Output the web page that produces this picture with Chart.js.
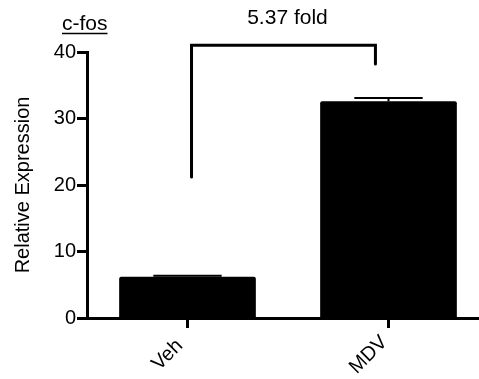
<!DOCTYPE html>
<html>
<head>
<meta charset="utf-8">
<script src="https://cdn.jsdelivr.net/npm/chart.js@4/dist/chart.umd.min.js"></script>
<style>
html,body{margin:0;padding:0;background:#fff;overflow:hidden;width:479px;height:379px;}
#wrap{width:489px;height:379px;}
</style>
</head>
<body>
<div id="wrap"><canvas id="c" width="489" height="379"></canvas></div>
<script>
// ---- data ----
const categories = ["Veh", "MDV"];
const meanValues = [6.2, 32.6];
const errorValues = [0.15, 0.5];
const yTicks = [0, 10, 20, 30, 40];
const chartTitle = "c-fos";
const yAxisTitle = "Relative Expression";
const bracketLabel = "5.37 fold";
// bracket: [category position, value] for left bottom, top-left, top-right, right bottom
const bracketX = [0.02, 0.02, 0.935, 0.935];
const bracketY = [21.2, 41.0, 41.0, 38.2];
const bracketLabelValue = 45.1;

const FONT = "'Liberation Sans', Arial, Helvetica, sans-serif";

const annot = {
  id: 'annot',
  afterDatasetsDraw(chart) {
    const ctx = chart.ctx;
    const xs = chart.scales.x, ys = chart.scales.y;
    const x0 = xs.getPixelForValue(0), x1 = xs.getPixelForValue(1);
    const px = v => x0 + v * (x1 - x0);
    ctx.save();
    ctx.strokeStyle = '#000';
    // error bars
    const barW = chart.getDatasetMeta(0).data[0].width;
    meanValues.forEach((m, i) => {
      const cx = xs.getPixelForValue(i);
      const yt = ys.getPixelForValue(m + errorValues[i]);
      const ym = ys.getPixelForValue(m);
      const cw = barW * 0.5;
      ctx.lineWidth = 2;
      ctx.beginPath();
      ctx.moveTo(cx, ym); ctx.lineTo(cx, yt);
      ctx.moveTo(cx - cw / 2, yt); ctx.lineTo(cx + cw / 2, yt);
      ctx.stroke();
    });
    // bracket
    ctx.lineWidth = 3;
    ctx.lineCap = 'round';
    ctx.beginPath();
    bracketX.forEach((bx, k) => {
      const X = px(bx), Y = ys.getPixelForValue(bracketY[k]);
      if (k === 0) ctx.moveTo(X, Y); else ctx.lineTo(X, Y);
    });
    ctx.stroke();
    ctx.fillStyle = '#000';
    // bracket label
    ctx.font = '21px ' + FONT;
    ctx.textAlign = 'center';
    ctx.textBaseline = 'middle';
    const lx = (px(bracketX[0]) + px(bracketX[3])) / 2 + 4;
    ctx.fillText(bracketLabel, lx, ys.getPixelForValue(bracketLabelValue));
    // category labels (rotated, centred)
    ctx.font = '20px ' + FONT;
    categories.forEach((c, i) => {
      const cx = xs.getPixelForValue(i);
      ctx.save();
      ctx.translate(cx - 20, xs.top + 37);
      ctx.rotate(-Math.PI / 4);
      ctx.textAlign = 'center';
      ctx.textBaseline = 'middle';
      ctx.fillText(c, 0, 0);
      ctx.restore();
    });
    // chart title with underline
    ctx.font = '21px ' + FONT;
    ctx.textAlign = 'left';
    ctx.textBaseline = 'alphabetic';
    const tx = 62, ty = 30;
    ctx.fillText(chartTitle, tx, ty);
    const tw = ctx.measureText(chartTitle).width;
    ctx.lineWidth = 1.5;
    ctx.lineCap = 'butt';
    ctx.beginPath();
    ctx.moveTo(tx, ty + 3.5); ctx.lineTo(tx + tw, ty + 3.5);
    ctx.stroke();
    ctx.restore();
  }
};

new Chart(document.getElementById('c'), {
  type: 'bar',
  data: {
    labels: categories,
    datasets: [{
      data: meanValues,
      backgroundColor: '#000',
      borderWidth: 0,
      borderRadius: 2,
      barPercentage: 0.68,
      categoryPercentage: 1.0
    }]
  },
  options: {
    responsive: false,
    animation: false,
    devicePixelRatio: 1,
    layout: { padding: { top: 52, left: 0, right: 0, bottom: 0 } },
    plugins: { legend: { display: false }, tooltip: { enabled: false } },
    scales: {
      x: {
        offset: true,
        afterFit(s) { s.height = 61; },
        grid: { drawOnChartArea: false, offset: false, tickLength: 10, tickWidth: 3, tickColor: '#000' },
        border: { display: true, color: '#000', width: 3 },
        ticks: { display: false, minRotation: 45, maxRotation: 45 }
      },
      y: {
        min: 0, max: 40,
        afterFit(s) { s.width = 87; },
        afterBuildTicks(s) { s.ticks = yTicks.map(v => ({ value: v })); },
        grid: { drawOnChartArea: false, tickLength: 10, tickWidth: 3, tickColor: '#000' },
        border: { display: true, color: '#000', width: 3 },
        ticks: { color: '#000', font: { family: FONT, size: 20 }, padding: 1 },
        title: {
          display: true, text: yAxisTitle, color: '#000',
          font: { family: FONT, size: 20 }, padding: { top: 11, bottom: 0 }
        }
      }
    }
  },
  plugins: [annot]
});
</script>
</body>
</html>
